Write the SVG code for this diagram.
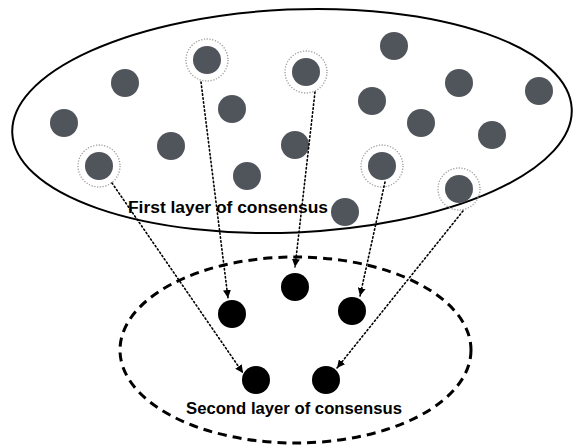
<svg xmlns="http://www.w3.org/2000/svg" width="573" height="448" viewBox="0 0 573 448">
<style>
.g{fill:#50545b}
.b{fill:#000}
.ring{fill:none;stroke:#9a9a9a;stroke-width:1.3;stroke-dasharray:1.2 1.6}
.conn{fill:none;stroke:#000;stroke-width:1.6;stroke-dasharray:1.4 2.6;stroke-linecap:round}
.lbl{font-family:"Liberation Sans",Arial,Helvetica,sans-serif;font-weight:bold;fill:#000}
</style>
<defs>
<marker id="ah" viewBox="0 0 10 10" refX="10" refY="5" markerWidth="8" markerHeight="8" markerUnits="userSpaceOnUse" orient="auto">
<path d="M0,0 L10,5 L0,10 Z" fill="#000"/>
</marker>
</defs>
<rect width="573" height="448" fill="#fff"/>
<g id="layer1">
<ellipse cx="292" cy="121" rx="280" ry="111.5" fill="none" stroke="#000" stroke-width="2" transform="rotate(-2.5 292 121)"/>
</g>
<g id="layer2">
<ellipse cx="295.5" cy="350" rx="175.5" ry="93" fill="none" stroke="#000" stroke-width="3" stroke-dasharray="9 6"/>
</g>
<g id="first-nodes">
<g id="n1"><circle class="g" cx="125" cy="83" r="14"/></g>
<g id="n2"><circle class="g" cx="64" cy="123" r="14"/></g>
<g id="n3"><circle class="ring" cx="207" cy="60" r="21"/><circle class="g" cx="207" cy="60" r="14"/></g>
<g id="n4"><circle class="g" cx="232" cy="109" r="14"/></g>
<g id="n5"><circle class="g" cx="171" cy="146" r="14"/></g>
<g id="n6"><circle class="ring" cx="99" cy="166" r="21"/><circle class="g" cx="99" cy="166" r="14"/></g>
<g id="n7"><circle class="g" cx="247" cy="176" r="14"/></g>
<g id="n8"><circle class="g" cx="394" cy="46" r="14"/></g>
<g id="n9"><circle class="ring" cx="306" cy="72" r="21"/><circle class="g" cx="306" cy="72" r="14"/></g>
<g id="n10"><circle class="g" cx="459" cy="83" r="14"/></g>
<g id="n11"><circle class="g" cx="539" cy="91" r="14"/></g>
<g id="n12"><circle class="g" cx="372" cy="101" r="14"/></g>
<g id="n13"><circle class="g" cx="421" cy="123" r="14"/></g>
<g id="n14"><circle class="g" cx="492" cy="135" r="14"/></g>
<g id="n15"><circle class="g" cx="295" cy="145" r="14"/></g>
<g id="n16"><circle class="ring" cx="382" cy="166" r="21"/><circle class="g" cx="382" cy="166" r="14"/></g>
<g id="n17"><circle class="ring" cx="459" cy="189" r="21"/><circle class="g" cx="459" cy="189" r="14"/></g>
<g id="n18"><circle class="g" cx="345" cy="212" r="14"/></g>
</g>
<g id="second-nodes">
<g id="m1"><circle class="b" cx="295" cy="287" r="14"/></g>
<g id="m2"><circle class="b" cx="232" cy="314" r="14"/></g>
<g id="m3"><circle class="b" cx="352" cy="311" r="14"/></g>
<g id="m4"><circle class="b" cx="256" cy="380" r="14"/></g>
<g id="m5"><circle class="b" cx="326" cy="380" r="14"/></g>
</g>
<g id="connectors">
<line class="conn" x1="201" y1="82" x2="228" y2="298" marker-end="url(#ah)"/>
<line class="conn" x1="315" y1="92" x2="295" y2="267" marker-end="url(#ah)"/>
<line class="conn" x1="112" y1="183" x2="243" y2="373" marker-end="url(#ah)"/>
<line class="conn" x1="385" y1="182" x2="360" y2="296" marker-end="url(#ah)"/>
<line class="conn" x1="463" y1="211" x2="337" y2="368" marker-end="url(#ah)"/>
</g>
<g id="labels">
<text class="lbl" x="128" y="213" font-size="16" textLength="200" lengthAdjust="spacingAndGlyphs">First layer of consensus</text>
<text class="lbl" x="186" y="414" font-size="16.5" textLength="216" lengthAdjust="spacingAndGlyphs">Second layer of consensus</text>
</g>
</svg>
